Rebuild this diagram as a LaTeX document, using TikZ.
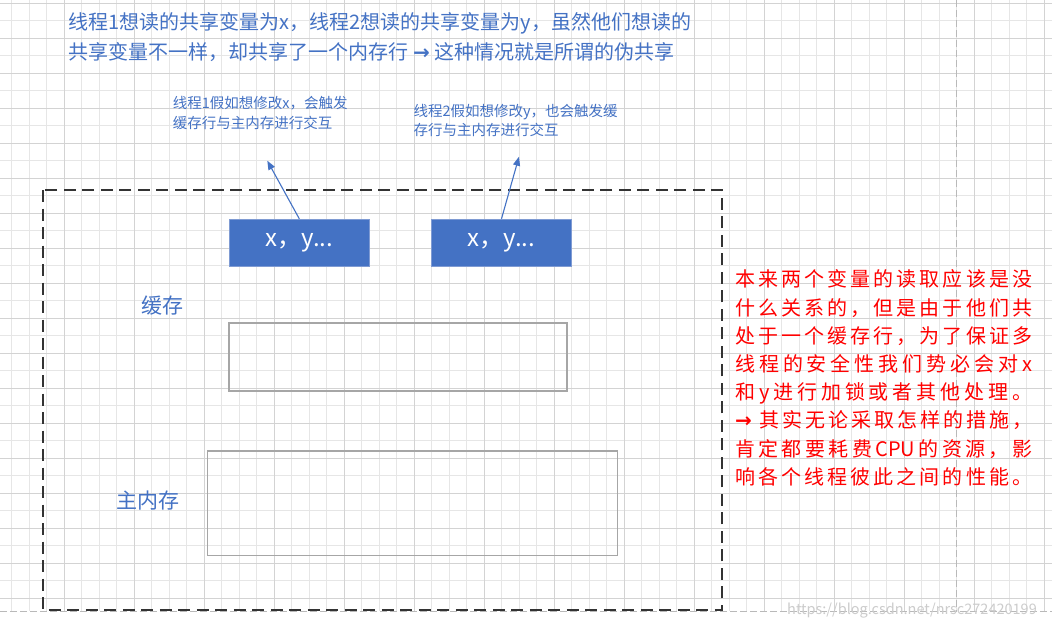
\documentclass[tikz,border=0pt]{standalone}
\usepackage{fontspec}
\newfontfamily\cjk{Noto Sans CJK SC}
\newfontfamily\arrfont{DejaVu Sans}
\usetikzlibrary{arrows.meta}
\definecolor{ablue}{HTML}{4472C4}
\definecolor{bborder}{HTML}{7F9BD3}
\definecolor{redtxt}{HTML}{FF0000}
\definecolor{gminor}{HTML}{E6E6E6}
\definecolor{gmajor}{HTML}{D3D3D3}
\definecolor{rectgray}{HTML}{A6A6A6}
\definecolor{frameblk}{HTML}{333333}
% spread the characters of a line evenly
\def\spl#1#2\relax{#1\ifx\relax#2\relax\else\hfil\spl#2\relax\fi}
\newcommand\jline[1]{\makebox[297pt][s]{\spl#1\relax}}
\newcommand\barrow{{\arrfont\bfseries →}}
\tikzset{
  bluetext/.style={text=ablue, inner sep=0, anchor=west},
  annot/.style={bluetext, align=left, font=\cjk\fontsize{14.5}{19.5}\selectfont},
  varbox/.style={fill=ablue, draw=bborder, line width=0.8pt, minimum width=140pt, minimum height=47pt, text=white, font=\cjk\fontsize{24}{28}\selectfont, inner sep=0},
  memrect/.style={draw=rectgray, line width=1.4pt, inner sep=0},
  bluearrow/.style={draw=ablue, line width=1.1pt, -{Triangle[length=9pt,width=7pt]}},
  pagebreak/.style={draw=gray!55, line width=0.8pt, dash pattern=on 7pt off 3pt},
}
\begin{document}
\begin{tikzpicture}[x=1pt,y=-1pt]
\useasboundingbox (0,0) rectangle (1052,629);
\fill[white] (0,0) rectangle (1052,629);
% grid
\foreach \i in {0,...,59} { \draw[gminor, line width=0.8pt] ({11.7+17.5*\i},0) -- ({11.7+17.5*\i},611); }
\foreach \i in {0,...,34} { \draw[gminor, line width=0.8pt] (0,{3.3+17.5*\i}) -- (1052,{3.3+17.5*\i}); }
\foreach \i in {0,...,14} { \draw[gmajor, line width=0.8pt] ({64.2+70*\i},0) -- ({64.2+70*\i},611); }
\foreach \i in {0,...,17} { \draw[gmajor, line width=0.8pt] (0,{3.3+35*\i}) -- (1052,{3.3+35*\i}); }
% page breaks
\draw[pagebreak] (956.7,0) -- (956.7,611);
\draw[pagebreak] (0,611) -- (1052,611);

% title
\node[bluetext, font=\cjk\fontsize{20}{28}\selectfont] (title1) at (68.5,23.3) {线程1想读的共享变量为x，线程2想读的共享变量为y，虽然他们想读的};
\node[bluetext, font=\cjk\fontsize{20}{28}\selectfont] (title2) at (68.5,51.7) {共享变量不一样，却共享了一个内存行 \barrow{} 这种情况就是所谓的伪共享};

% annotations
\node[annot] (note1) at (172.7,112.8) {线程1假如想修改x，会触发\\缓存行与主内存进行交互};
\node[annot] (note2) at (413.3,120.7) {线程2假如想修改y，也会触发缓\\存行与主内存进行交互};

% frame
\draw[draw=frameblk, line width=2.2pt, dash pattern=on 12pt off 6.5pt] (43.3,190) rectangle (721.7,610);

% variable boxes
\node[varbox] (b1) at (299.3,242.7) {x，y...};
\node[varbox] (b2) at (501.5,242.7) {x，y...};

\coordinate (t1) at (267.3,160.7);
\coordinate (t2) at (519,156.7);
\draw[bluearrow] (b1.north) -- (t1);
\draw[bluearrow] (b2.north) -- (t2);

% cache & main memory
\node[bluetext, font=\cjk\fontsize{21}{25}\selectfont] (cachelbl) at (141.5,306) {缓存};
\node[memrect, minimum width=338pt, minimum height=68pt] (cache) at (398,357) {};
\node[bluetext, font=\cjk\fontsize{21}{25}\selectfont] (memlbl) at (116.5,500.7) {主内存};
\node[memrect, minimum width=410pt, minimum height=104.5pt] (mem) at (412.2,503.3) {};

% red explanation
\node[inner sep=0, anchor=west, text=redtxt, align=left, font=\cjk\fontsize{20}{28.2}\selectfont] (expl) at (735,378) {%
\jline{本来两个变量的读取应该是没}\\
\jline{什么关系的，但是由于他们共}\\
\jline{处于一个缓存行，为了保证多}\\
\jline{线程的安全性我们势必会对x}\\
\jline{和y进行加锁或者其他处理。}\\
\jline{{\barrow\ }其实无论采取怎样的措施，}\\
\jline{肯定都要耗费{CPU}的资源，影}\\
\jline{响各个线程彼此之间的性能。}};

% watermark
\node[inner sep=0, anchor=west, text=gray!40, font=\cjk\fontsize{14.5}{17}\selectfont] (wm) at (787,611) {https://blog.csdn.net/nrsc272420199};
\end{tikzpicture}
\end{document}
